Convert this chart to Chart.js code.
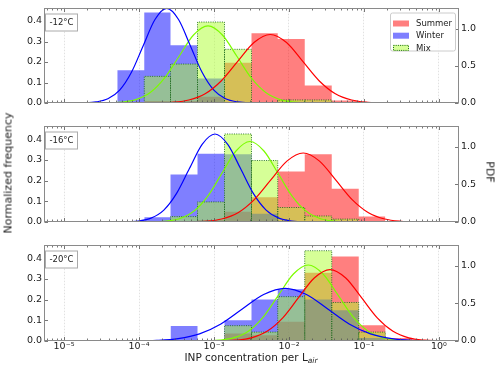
<!DOCTYPE html>
<html lang="en">
<head>
<meta charset="UTF-8">
<title>INP concentration distributions</title>
<script src="https://cdn.jsdelivr.net/npm/chart.js"></script>
<style>
    body { margin: 0; background: #fff; font-family: "DejaVu Sans", sans-serif; }
    #wrap { position: relative; width: 500px; height: 368px; overflow: hidden; }
    .panel { position: absolute; left: 0; }
    .lab { position: absolute; font-size: 11px; color: #222; white-space: nowrap; }
    .lab sub { font-size: 7.5px; font-style: italic; vertical-align: -2px; }
    #ylab { left: 8px; top: 173px; transform: translate(-50%, -50%) rotate(-90deg); }
    #ylab2 { left: 490px; top: 172px; transform: translate(-50%, -50%) rotate(90deg); }
    #xlab { left: 251px; top: 358px; font-size: 10.5px; transform: translate(-50%, -50%); }
</style>
</head>
<body>
<div id="wrap">
    <canvas id="p12" class="panel" width="500" height="118" style="top:0px"></canvas>
    <canvas id="p16" class="panel" width="500" height="119" style="top:118px"></canvas>
    <canvas id="p20" class="panel" width="500" height="131" style="top:237px"></canvas>
    <div id="ylab" class="lab">Normalized frequency</div>
    <div id="ylab2" class="lab">PDF</div>
    <div id="xlab" class="lab">INP concentration per L<sub>air</sub></div>
</div>
<script>
// bin edges, as log10 of INP concentration
const binEdges = [-4.29, -3.93, -3.58, -3.22, -2.86, -2.50, -2.15, -1.79, -1.43, -1.07, -0.715, -0.357, 0];

// normalized frequency per bin (left axis)
const summer12 = [0, 0.01, 0.01, 0.03, 0.196, 0.34, 0.312, 0.085, 0.012, 0, 0, 0];
const winter12 = [0.16, 0.442, 0.282, 0.12, 0, 0, 0, 0, 0, 0, 0, 0];
const mix12    = [0, 0.13, 0.19, 0.395, 0.262, 0, 0.015, 0.015, 0, 0, 0, 0];

const summer16 = [0, 0, 0, 0.01, 0.05, 0.12, 0.244, 0.327, 0.161, 0.026, 0, 0];
const winter16 = [0, 0.023, 0.229, 0.33, 0.327, 0.04, 0, 0, 0, 0, 0, 0];
const mix16    = [0, 0, 0.026, 0.097, 0.425, 0.297, 0.07, 0.029, 0.014, 0, 0, 0];

const summer20 = [0, 0, 0, 0, 0.036, 0.028, 0.093, 0.33, 0.408, 0.076, 0.015, 0];
const winter20 = [0, 0, 0.073, 0, 0.10, 0.20, 0.25, 0.20, 0.149, 0.015, 0, 0];
const mix20    = [0, 0, 0, 0, 0.074, 0.043, 0.214, 0.436, 0.186, 0.043, 0, 0];

// PDF curves (right axis): log10 x positions and values
const pdfX12Winter = [-5, -4.729, -4.572, -4.415, -4.258, -4.101, -3.944, -3.787, -3.63, -3.473, -3.316, -3.159, -3.002, -2.845, -2.688, -2.531, 0];
const pdfY12Winter = [0, 0.003, 0.014, 0.056, 0.172, 0.412, 0.770, 1.121, 1.27, 1.121, 0.770, 0.412, 0.172, 0.056, 0.014, 0.003, 0];
const pdfX12Mix    = [-5, -4.428, -4.235, -4.043, -3.850, -3.658, -3.465, -3.273, -3.08, -2.888, -2.695, -2.503, -2.310, -2.118, -1.925, -1.733, 0];
const pdfY12Mix    = [0, 0.002, 0.011, 0.045, 0.140, 0.336, 0.628, 0.913, 1.035, 0.913, 0.628, 0.336, 0.140, 0.045, 0.011, 0.002, 0];
const pdfX12Summer = [-5, -3.769, -3.552, -3.335, -3.118, -2.901, -2.684, -2.467, -2.25, -2.033, -1.816, -1.599, -1.382, -1.165, -0.948, -0.731, 0];
const pdfY12Summer = [0, 0.002, 0.010, 0.040, 0.124, 0.299, 0.558, 0.812, 0.92, 0.812, 0.558, 0.299, 0.124, 0.040, 0.010, 0.002, 0];

const pdfX16Winter = [-5, -4.181, -4.010, -3.840, -3.669, -3.499, -3.328, -3.158, -2.987, -2.817, -2.646, -2.476, -2.305, -2.135, -1.964, -1.794, 0];
const pdfY16Winter = [0, 0.003, 0.013, 0.051, 0.158, 0.380, 0.710, 1.033, 1.17, 1.033, 0.710, 0.380, 0.158, 0.051, 0.013, 0.003, 0];
const pdfX16Mix    = [-5, -3.826, -3.639, -3.453, -3.266, -3.080, -2.893, -2.707, -2.52, -2.334, -2.147, -1.961, -1.774, -1.588, -1.401, -1.215, 0];
const pdfY16Mix    = [0, 0.002, 0.012, 0.047, 0.145, 0.347, 0.649, 0.944, 1.07, 0.944, 0.649, 0.347, 0.145, 0.047, 0.012, 0.002, 0];
const pdfX16Summer = [-5, -3.333, -3.115, -2.898, -2.680, -2.463, -2.245, -2.028, -1.81, -1.593, -1.375, -1.158, -0.940, -0.723, -0.505, -0.288, 0];
const pdfY16Summer = [0, 0.002, 0.010, 0.040, 0.124, 0.298, 0.556, 0.809, 0.917, 0.809, 0.556, 0.298, 0.124, 0.040, 0.010, 0.002, 0];

const pdfX20Winter = [-5, -4.048, -3.763, -3.478, -3.193, -2.908, -2.623, -2.338, -2.053, -1.768, -1.483, -1.198, -0.913, -0.628, -0.343, -0.058, 0];
const pdfY20Winter = [0, 0.002, 0.008, 0.031, 0.095, 0.227, 0.425, 0.618, 0.70, 0.618, 0.425, 0.227, 0.095, 0.031, 0.008, 0.002, 0];
const pdfX20Mix    = [-5, -3.126, -2.928, -2.731, -2.533, -2.336, -2.138, -1.941, -1.743, -1.546, -1.348, -1.151, -0.953, -0.756, -0.558, -0.361, 0];
const pdfY20Mix    = [0, 0.002, 0.011, 0.044, 0.137, 0.328, 0.613, 0.891, 1.01, 0.891, 0.613, 0.328, 0.137, 0.044, 0.011, 0.002, 0];
const pdfX20Summer = [-5, -2.923, -2.713, -2.503, -2.293, -2.083, -1.873, -1.663, -1.453, -1.243, -1.033, -0.823, -0.613, -0.403, -0.193, 0];
const pdfY20Summer = [0, 0.002, 0.011, 0.042, 0.129, 0.308, 0.576, 0.838, 0.95, 0.838, 0.576, 0.308, 0.129, 0.042, 0.011, 0.003];

// ticks
const xTickExp = [-5, -4, -3, -2, -1, 0];
const yTicksLeft = [0, 0.1, 0.2, 0.3, 0.4];
const yTicksRight = [0, 0.5, 1.0];
const seriesNames = ['Summer', 'Winter', 'Mix'];

const FONT = '"DejaVu Sans", sans-serif';
const summerFill = 'rgba(255, 0, 0, 0.5)';
const winterFill = 'rgba(0, 0, 255, 0.5)';
const mixFill = 'rgba(173, 255, 47, 0.5)';
const mixEdge = '#1f6b1f';
const frameColor = '#8a8a8a';
const SUP = { '-': '\u207B', '0': '\u2070', '1': '\u00B9', '2': '\u00B2', '3': '\u00B3', '4': '\u2074', '5': '\u2075' };

Chart.defaults.font.family = FONT;
Chart.defaults.color = '#222';

function tickLabel(v) {
    const e = String(Math.round(Math.log10(v)));
    return '10' + e.split('').map(c => SUP[c]).join('');
}

// step outline of a histogram, dropping to zero at every bin edge
function histPoints(vals) {
    const first = vals.findIndex(v => v > 0);
    let last = vals.length - 1;
    while (last > 0 && vals[last] <= 0) last--;
    const pts = [];
    for (let k = first; k <= last; k++) {
        const x0 = Math.pow(10, binEdges[k]), x1 = Math.pow(10, binEdges[k + 1]);
        pts.push({ x: x0, y: 0 }, { x: x0, y: vals[k] }, { x: x1, y: vals[k] }, { x: x1, y: 0 });
    }
    return pts;
}

function curvePoints(xs, ys) {
    return xs.map((e, i) => ({ x: Math.pow(10, e), y: ys[i] }));
}

// frame, inward ticks, panel label and legend
const panelDeco = {
    id: 'panelDeco',
    afterDraw(chart, args, opts) {
        const { ctx, chartArea: a, scales } = chart;
        const L = Math.round(a.left) + 0.5, R = Math.round(a.right) - 0.5;
        const T = Math.round(a.top) + 0.5, B = Math.round(a.bottom) - 0.5;
        ctx.save();
        ctx.strokeStyle = '#555';
        ctx.lineWidth = 0.8;
        ctx.beginPath();
        const xs = scales.x;
        for (let e = -6; e <= 0; e++) {
            for (let m = 1; m <= 9; m++) {
                const v = m * Math.pow(10, e);
                if (v < xs.min || v > xs.max) continue;
                const px = Math.round(xs.getPixelForValue(v)) + 0.5;
                const len = m === 1 ? 3.5 : 2;
                ctx.moveTo(px, T); ctx.lineTo(px, T + len);
                ctx.moveTo(px, B); ctx.lineTo(px, B - len);
            }
        }
        yTicksLeft.forEach(v => {
            const py = Math.round(scales.y.getPixelForValue(v)) + 0.5;
            ctx.moveTo(L, py); ctx.lineTo(L + 3.5, py);
        });
        yTicksRight.forEach(v => {
            const py = Math.round(scales.y2.getPixelForValue(v)) + 0.5;
            ctx.moveTo(R, py); ctx.lineTo(R - 3.5, py);
        });
        ctx.stroke();

        ctx.strokeStyle = frameColor;
        ctx.lineWidth = 1;
        ctx.strokeRect(L, T, R - L, B - T);

        // temperature label
        ctx.font = '8.5px ' + FONT;
        ctx.fillStyle = '#fff';
        ctx.strokeStyle = '#aaa';
        const bx = L + 1, by = T + 5.5;
        ctx.fillRect(bx, by, 32, 17);
        ctx.strokeRect(bx, by, 32, 17);
        ctx.fillStyle = '#222';
        ctx.textAlign = 'center';
        ctx.textBaseline = 'middle';
        ctx.fillText(opts.label, bx + 16, by + 9);

        if (opts.legend) {
            const lx = 390, ly = T + 4, lw = 65, lh = 38;
            ctx.fillStyle = 'rgba(255,255,255,0.85)';
            ctx.strokeStyle = '#ccc';
            ctx.beginPath();
            ctx.roundRect(lx + 0.5, ly + 0.5, lw, lh, 2);
            ctx.fill();
            ctx.stroke();
            const fills = [summerFill, winterFill, mixFill];
            ctx.textAlign = 'left';
            seriesNames.forEach((name, i) => {
                const cy = ly + 11 + i * 12.2;
                ctx.fillStyle = fills[i];
                ctx.fillRect(lx + 3, cy - 3, 16, 6);
                if (name === 'Mix') {
                    ctx.strokeStyle = mixEdge;
                    ctx.setLineDash([1, 1.2]);
                    ctx.strokeRect(lx + 3.5, cy - 2.5, 15, 5);
                    ctx.setLineDash([]);
                }
                ctx.fillStyle = '#222';
                ctx.fillText(name, lx + 26, cy + 0.5);
            });
        }
        ctx.restore();
    }
};

function makePanel(id, label, summer, winter, mix, curves, cfg) {
    const histBase = { showLine: true, pointRadius: 0, fill: 'origin', tension: 0, yAxisID: 'y' };
    const curveBase = { showLine: true, pointRadius: 0, fill: false, borderWidth: 1.2, yAxisID: 'y2', cubicInterpolationMode: 'monotone', order: 0 };
    new Chart(document.getElementById(id), {
        type: 'scatter',
        data: {
            datasets: [
                { ...histBase, data: histPoints(summer), backgroundColor: summerFill, borderColor: 'rgba(0,0,0,0)', borderWidth: 0, order: 4 },
                { ...histBase, data: histPoints(winter), backgroundColor: winterFill, borderColor: 'rgba(0,0,0,0)', borderWidth: 0, order: 3 },
                { ...histBase, data: histPoints(mix), backgroundColor: mixFill, borderColor: mixEdge, borderWidth: 0.9, borderDash: [1, 1.3], order: 2 },
                { ...curveBase, data: curvePoints(curves[0], curves[1]), borderColor: '#ff0000' },
                { ...curveBase, data: curvePoints(curves[2], curves[3]), borderColor: '#0000ff' },
                { ...curveBase, data: curvePoints(curves[4], curves[5]), borderColor: '#7cfc00' }
            ]
        },
        options: {
            responsive: false,
            animation: false,
            layout: { padding: { top: cfg.padTop, left: 0, right: 0, bottom: 0 } },
            plugins: {
                legend: { display: false },
                tooltip: { enabled: false },
                panelDeco: { label: label, legend: cfg.legend }
            },
            scales: {
                x: {
                    type: 'logarithmic',
                    bounds: 'data',
                    min: Math.pow(10, -5.267),
                    max: Math.pow(10, 0.267),
                    afterBuildTicks: s => { s.ticks = xTickExp.map(e => ({ value: Math.pow(10, e) })); },
                    ticks: { display: cfg.showX, callback: v => tickLabel(v), font: { size: 9.5 }, padding: 0, maxRotation: 0, autoSkip: false },
                    grid: { color: '#d9d9d9', lineWidth: 0.8, drawTicks: false },
                    border: { display: false, dash: [1.5, 1.5] },
                    afterFit: s => { s.height = cfg.xh; }
                },
                y: {
                    position: 'left',
                    min: 0,
                    max: 0.465,
                    afterBuildTicks: s => { s.ticks = yTicksLeft.map(v => ({ value: v })); },
                    ticks: { callback: v => v.toFixed(1), font: { size: 9.5 }, padding: 2 },
                    grid: { display: false, drawTicks: false },
                    border: { display: false },
                    afterFit: s => { s.width = 44; }
                },
                y2: {
                    position: 'right',
                    min: 0,
                    max: 1.28,
                    afterBuildTicks: s => { s.ticks = yTicksRight.map(v => ({ value: v })); },
                    ticks: { callback: v => v.toFixed(1), font: { size: 9.5 }, padding: 2 },
                    grid: { display: false, drawTicks: false },
                    border: { display: false },
                    afterFit: s => { s.width = 41; }
                }
            }
        },
        plugins: [panelDeco]
    });
}

makePanel('p12', '-12°C', summer12, winter12, mix12,
    [pdfX12Summer, pdfY12Summer, pdfX12Winter, pdfY12Winter, pdfX12Mix, pdfY12Mix],
    { padTop: 5, xh: 15, showX: false, legend: true });
makePanel('p16', '-16°C', summer16, winter16, mix16,
    [pdfX16Summer, pdfY16Summer, pdfX16Winter, pdfY16Winter, pdfX16Mix, pdfY16Mix],
    { padTop: 4, xh: 15, showX: false, legend: false });
makePanel('p20', '-20°C', summer20, winter20, mix20,
    [pdfX20Summer, pdfY20Summer, pdfX20Winter, pdfY20Winter, pdfX20Mix, pdfY20Mix],
    { padTop: 6, xh: 27, showX: true, legend: false });
</script>
</body>
</html>
